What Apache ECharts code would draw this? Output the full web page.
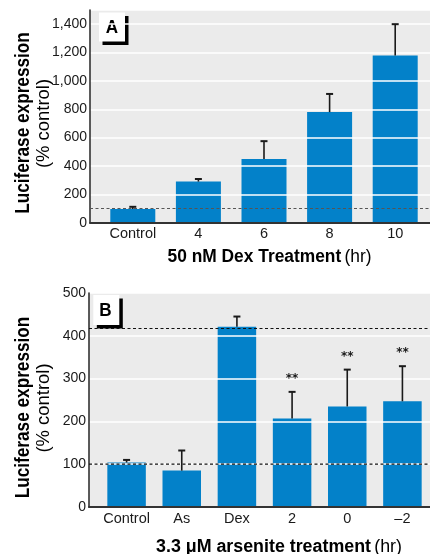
<!DOCTYPE html>
<html><head><meta charset="utf-8">
<script src="https://cdn.jsdelivr.net/npm/echarts@6/dist/echarts.min.js"></script>
<style>html,body{margin:0;padding:0;background:#fff}#c{width:430px;height:554px}</style>
</head><body><div id="c"></div>
<script>
// ---- Panel A data ----
const catA = ['Control', '4', '6', '8', '10'];
const valA = [97, 290, 450, 780, 1180];
const errA = [15, 18, 125, 128, 220];
const refA = [100];
// ---- Panel B data ----
const catB = ['Control', 'As', 'Dex', '2', '0', '–2'];
const valB = [104, 85, 421, 207, 235, 247];
const errB = [6, 47, 24, 62, 86, 82];
const sigB = ['', '', '', '**', '**', '**'];
const refB = [100, 417];

const FONT = '"Liberation Sans", Arial, sans-serif';
const BG = '#ebebeb', BLUE = '#0381c9', INK = '#1a1a1a', AX = '#333333';

const chart = echarts.init(document.getElementById('c'), null, {renderer: 'canvas'});

function errSeries(xi, yi, vals, errs, marks) {
  return {
    type: 'custom', xAxisIndex: xi, yAxisIndex: yi, z: 6, silent: true,
    data: vals.map((v, i) => [i, v, v + errs[i]]),
    renderItem(params, api) {
      const base = api.coord([api.value(0), api.value(1)]);
      const top = api.coord([api.value(0), api.value(2)]);
      const ch = [
        {type: 'line', shape: {x1: base[0], y1: base[1], x2: top[0], y2: top[1]}, style: {stroke: INK, lineWidth: 1.6}},
        {type: 'line', shape: {x1: top[0] - 3.5, y1: top[1], x2: top[0] + 3.5, y2: top[1]}, style: {stroke: INK, lineWidth: 2}}
      ];
      const m = marks ? marks[params.dataIndex] : '';
      if (m) ch.push({type: 'text', style: {text: m, x: top[0], y: top[1] - 13, align: 'center', verticalAlign: 'middle', fontSize: 12, fontWeight: 'bold', fontFamily: 'DejaVu Sans', fill: INK}});
      return {type: 'group', children: ch};
    }
  };
}
function refSeries(xi, yi, refs, color) {
  return {
    type: 'custom', xAxisIndex: xi, yAxisIndex: yi, z: 8, silent: true,
    data: refs.map(v => [v]),
    renderItem(params, api) {
      const a = api.coord([0, api.value(0)]);
      const b = api.coord([1, api.value(0)]);
      return {type: 'line', shape: {x1: a[0], y1: a[1], x2: b[0], y2: b[1]}, style: {stroke: color, lineWidth: 1.2, lineDash: [3, 2.5]}};
    }
  };
}
const bgX = gi => ({type: 'value', gridIndex: gi, min: 0, max: 1, z: 4,
  axisLine: {show: true, onZero: false, lineStyle: {color: AX, width: 2}},
  axisTick: {show: false}, axisLabel: {show: false}, splitLine: {show: false}});
const catX = (gi, cats) => ({type: 'category', gridIndex: gi, data: cats,
  axisLine: {show: false}, axisTick: {show: false},
  axisLabel: {interval: 0, margin: 4, fontSize: 14.5, color: INK, fontFamily: FONT}});
const bgY = (gi, max, step, hideMax) => ({type: 'value', gridIndex: gi, min: 0, max: max, interval: step, z: 4,
  axisLine: {show: true, lineStyle: {color: AX, width: 1.6}}, axisTick: {show: false},
  axisLabel: {margin: 3, fontSize: 14, color: INK, fontFamily: FONT,
    formatter: v => (hideMax && v === max) ? '' : v.toLocaleString('en-US')},
  splitLine: {show: true, lineStyle: {color: '#ffffff', width: 1.5}}});
const hidY = (gi, max) => ({type: 'value', gridIndex: gi, min: 0, max: max, show: false, splitLine: {show: false}});

function labelBox(x, y, w, h, t, tx, ty, fs) {
  return {type: 'group', z: 100, children: [
    {type: 'rect', shape: {x: x + 3.5, y: y + 3.5, width: w, height: h}, style: {fill: '#000'}},
    {type: 'rect', shape: {x: x, y: y, width: w, height: h}, style: {fill: '#fff'}},
    {type: 'text', x: tx, y: ty, scaleX: 0.9, style: {text: t, x: 0, y: 0, align: 'center', verticalAlign: 'middle', fontSize: fs, fontWeight: 'bold', fontFamily: FONT, fill: '#000'}}
  ]};
}
function yTitle(cy) {
  return {type: 'group', z: 100, children: [
    {type: 'text', x: 23, y: cy, rotation: Math.PI / 2, scaleX: 0.86, style: {text: 'Luciferase expression', align: 'center', verticalAlign: 'middle', fontSize: 20, fontWeight: 'bold', fontFamily: FONT, fill: '#000'}},
    {type: 'text', x: 44, y: cy + 0.5, rotation: Math.PI / 2, scaleX: 0.97, style: {text: '(% control)', align: 'center', verticalAlign: 'middle', fontSize: 19, fontFamily: FONT, fill: '#000'}}
  ]};
}
function xTitle(cx, cy, bold, reg, sx) {
  return {type: 'text', z: 100, x: cx, y: cy, scaleX: sx, style: {
    text: '{b|' + bold + '} {r|' + reg + '}', align: 'center', verticalAlign: 'middle',
    rich: {b: {fontSize: 18, fontWeight: 'bold', fontFamily: FONT, fill: '#000'},
           r: {fontSize: 18, fontFamily: FONT, fill: '#000'}}}};
}

chart.setOption({
  animation: false,
  grid: [
    {left: 90, right: 0, top: 10, bottom: 331.3, show: true, backgroundColor: BG, borderWidth: 0},
    {left: 100, right: 2, top: 10, bottom: 331.3},
    {left: 89, right: 0, top: 293, bottom: 47, show: true, backgroundColor: BG, borderWidth: 0},
    {left: 99, right: 0, top: 293, bottom: 47}
  ],
  xAxis: [bgX(0), catX(1, catA), bgX(2), catX(3, catB)],
  yAxis: [bgY(0, 1500, 200, true), hidY(1, 1500), bgY(2, 500, 100, false), hidY(3, 500)],
  series: [
    {type: 'bar', xAxisIndex: 1, yAxisIndex: 1, data: valA, barWidth: 45, itemStyle: {color: BLUE}, silent: true},
    errSeries(1, 1, valA, errA, null),
    refSeries(0, 0, refA, '#555555'),
    {type: 'bar', xAxisIndex: 3, yAxisIndex: 3, data: valB, barWidth: 38.5, itemStyle: {color: BLUE}, silent: true},
    errSeries(3, 3, valB, errB, sigB),
    refSeries(2, 2, refB, '#111111')
  ],
  graphic: [
    labelBox(99, 12.5, 26, 29, 'A', 112, 27.5, 19),
    labelBox(93.3, 295, 26, 30, 'B', 105.5, 311, 19),
    yTitle(123), yTitle(407.5),
    xTitle(269.5, 256.7, '50 nM Dex Treatment', '(hr)', 0.965),
    xTitle(279, 546.7, '3.3 μM arsenite treatment', '(hr)', 0.99)
  ]
});
</script></body></html>
